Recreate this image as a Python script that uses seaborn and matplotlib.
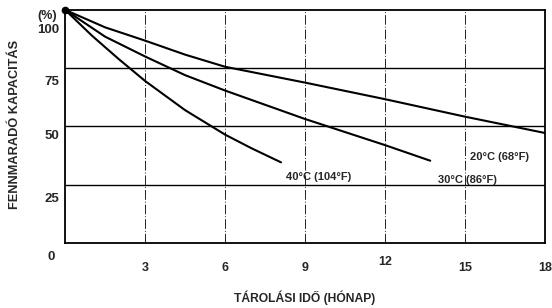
import pandas as pd
import seaborn as sns
import matplotlib.pyplot as plt

# Remaining capacity (%) vs storage time (months)
months_20 = [0, 1.5, 3, 4.5, 6, 9, 12, 15, 18]
cap_20 = [100, 92.5, 86.8, 80.8, 75.6, 68.8, 61.7, 54.2, 47.2]
months_30 = [0, 1.5, 3, 4.5, 6, 9, 12, 13.7]
cap_30 = [100, 88.5, 80.0, 72.0, 65.4, 53.2, 42.0, 35.3]
months_40 = [0, 1, 2, 3, 4.5, 6, 7, 8.1]
cap_40 = [100, 89.0, 79.0, 69.5, 57.0, 46.5, 40.6, 34.6]
series = ['20°C (68°F)', '30°C (86°F)', '40°C (104°F)']

x_ticks = [3, 6, 9, 12, 15, 18]
y_ticks = [0, 25, 50, 75, 100]

df = pd.concat([
    pd.DataFrame({'month': months_20, 'cap': cap_20, 'temp': series[0]}),
    pd.DataFrame({'month': months_30, 'cap': cap_30, 'temp': series[1]}),
    pd.DataFrame({'month': months_40, 'cap': cap_40, 'temp': series[2]}),
])

sns.set_style('white')
plt.rcParams['font.family'] = ['Liberation Sans', 'DejaVu Sans']
plt.rcParams['font.weight'] = 'bold'

fig = plt.figure(figsize=(5.52, 3.08), dpi=100)
ax = fig.add_axes([0.118, 0.211, 0.869, 0.757])

sns.lineplot(data=df, x='month', y='cap', units='temp', estimator=None,
             color='black', linewidth=1.5, sort=False, legend=False, ax=ax)
ax.plot([0], [100], 'o', color='black', markersize=4.5, clip_on=False)

ax.set_xlim(0, 18)
ax.set_ylim(0, 100)
ax.set_xlabel('')
ax.set_ylabel('')

# grid: solid horizontals, dash-dot verticals
for v in [25, 50, 75]:
    ax.axhline(v, color='black', linewidth=1.0, zorder=0)
for m in x_ticks[:-1]:
    ax.axvline(m, color='#222222', linewidth=0.7, linestyle=(0, (10, 2, 1, 2)), zorder=0)

for s in ax.spines.values():
    s.set_color('black')
    s.set_linewidth(1.3)

ax.set_xticks([])
ax.set_yticks([])

# tick labels sit a bit below the gridlines, as in the scan
ylab_pos = [-6.0, 18.9, 45.9, 69.1, 91.4]
for v, p in zip(y_ticks, ylab_pos):
    xo = -0.022 if v == 0 else -0.012
    ax.text(xo, p, str(v), transform=ax.get_yaxis_transform(), ha='right',
            va='center', fontsize=9.5, fontweight='bold', clip_on=False)
ax.text(-0.016, 97.4, '(%)', transform=ax.get_yaxis_transform(), ha='right',
        va='center', fontsize=9, fontweight='bold', clip_on=False)

for m in x_ticks:
    off = -0.08 if m == 12 else -0.108
    ax.text(m, off, str(m), transform=ax.get_xaxis_transform(), ha='center',
            va='center', fontsize=9, fontweight='bold', clip_on=False)

ax.text(0.5, -0.235, 'TÁROLÁSI IDŐ (HÓNAP)', transform=ax.transAxes, ha='center',
        va='center', fontsize=8.7, fontweight='bold')
fig.text(0.027, 0.597, 'FENNMARADÓ KAPACITÁS', rotation=90, ha='center',
         va='center', fontsize=9.2, fontweight='bold')

# curve labels
ax.text(15.2, 36.9, series[0], ha='left', va='center', fontsize=8, fontweight='bold')
ax.text(14.0, 27.0, series[1], ha='left', va='center', fontsize=8, fontweight='bold')
ax.text(8.3, 28.3, series[2], ha='left', va='center', fontsize=8, fontweight='bold')

fig.savefig('out.png', dpi=100)
